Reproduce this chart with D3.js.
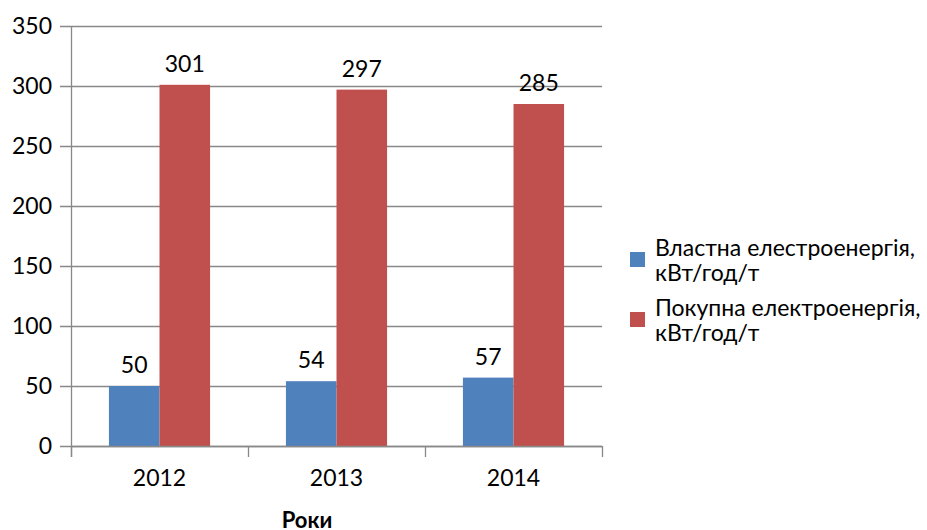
<!DOCTYPE html>
<html><head><meta charset="utf-8">
<script src="https://cdn.jsdelivr.net/npm/d3@7"></script>
<style>body{margin:0;background:#fff}svg{display:block}text{font-family:Lato,"DejaVu Sans",sans-serif}</style>
</head><body><svg id="c" width="927" height="530"></svg>
<script>
const categories = ["2012","2013","2014"];
const seriesNames = ["Властна елестроенергія, кВт/год/т","Покупна електроенергія, кВт/год/т"];
const ownValues = [50,54,57];
const boughtValues = [301,297,285];
const yTicks = [0,50,100,150,200,250,300,350];
const colors = ["#4F81BD","#C0504D"];
const axisTitle = "Роки";

(function(){
const svg = d3.select("#c");
const pL = 71, pR = 602, pT = 26, pB = 446;
const FS = 23;
const x = d3.scaleBand().domain(categories).range([pL,pR]);
const y = d3.scaleLinear().domain([0,350]).range([pB,pT]);
const bw = x.bandwidth()*2/3.5;
const inner = d3.scaleBand().domain([0,1]).range([0,bw]);
const grid = "#898989";

svg.append("g").selectAll("line").data(yTicks).join("line")
  .attr("x1",pL-11).attr("x2",pR).attr("y1",d=>y(d)+0.5).attr("y2",d=>y(d)+0.5)
  .attr("stroke",grid).attr("stroke-width",1.3);
svg.append("g").selectAll("text").data(yTicks).join("text")
  .attr("x",52).attr("y",d=>y(d)+8).attr("text-anchor","end")
  .attr("font-size",FS).attr("fill","#000").text(d=>d);

const series = [ownValues, boughtValues];
series.forEach((vals,si)=>{
  const g = svg.append("g");
  g.selectAll("rect").data(vals).join("rect")
    .attr("x",(d,i)=>x(categories[i])+(x.bandwidth()-bw)/2+inner(si))
    .attr("width",inner.bandwidth())
    .attr("y",d=>y(d)).attr("height",d=>pB-y(d))
    .attr("fill",colors[si]);
  g.selectAll("text").data(vals).join("text")
    .attr("x",(d,i)=>x(categories[i])+(x.bandwidth()-bw)/2+inner(si)+inner.bandwidth()/2)
    .attr("y",d=>y(d)-13).attr("text-anchor","middle")
    .attr("font-size",FS).attr("fill","#000").text(d=>d);
});

svg.append("line").attr("x1",pL+0.5).attr("x2",pL+0.5).attr("y1",pT).attr("y2",pB+11)
  .attr("stroke",grid).attr("stroke-width",1.3);
svg.append("line").attr("x1",pL).attr("x2",pR).attr("y1",pB+0.5).attr("y2",pB+0.5)
  .attr("stroke",grid).attr("stroke-width",1.3);
const tickPos = categories.map(c=>x(c)).concat([pR]);
svg.append("g").selectAll("line").data(tickPos).join("line")
  .attr("x1",d=>d+0.5).attr("x2",d=>d+0.5).attr("y1",pB).attr("y2",pB+11)
  .attr("stroke",grid).attr("stroke-width",1.3);
svg.append("g").selectAll("text").data(categories).join("text")
  .attr("x",d=>x(d)+x.bandwidth()/2).attr("y",486).attr("text-anchor","middle")
  .attr("font-size",FS).attr("fill","#000").text(d=>d);
svg.append("text").attr("x",307).attr("y",528).attr("text-anchor","middle")
  .attr("font-size",22).attr("font-weight","bold").attr("fill","#000").text(axisTitle);

const leg = svg.append("g");
seriesNames.forEach((n,i)=>{
  const y0 = 252 + i*60;
  leg.append("rect").attr("x",630).attr("y",y0).attr("width",15).attr("height",15).attr("fill",colors[i]);
  const parts = n.split(", ");
  const t = leg.append("text").attr("font-size",FS).attr("fill","#000");
  t.append("tspan").attr("x",655).attr("y",y0+4).text(parts[0]+",");
  t.append("tspan").attr("x",655).attr("y",y0+29).text(parts[1]);
});
})();
</script></body></html>
